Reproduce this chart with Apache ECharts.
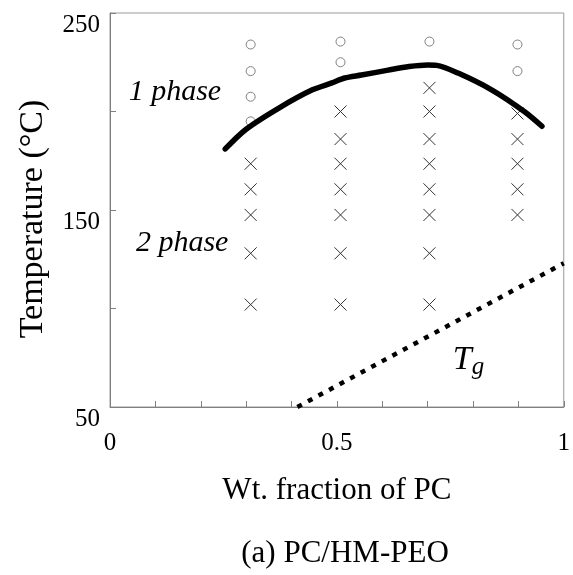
<!DOCTYPE html>
<html>
<head>
<meta charset="utf-8">
<script src="https://cdn.jsdelivr.net/npm/echarts@6/dist/echarts.min.js"></script>
<style>html,body{margin:0;padding:0;background:#fff}#c{width:573px;height:575px}</style>
</head>
<body>
<div id="c"></div>
<script>
// Data
var onePhase = [
  [0.31, 234], [0.31, 220.5], [0.31, 207.5], [0.31, 195],
  [0.508, 235.5], [0.508, 225],
  [0.704, 235.5],
  [0.898, 234], [0.898, 220.5]
];
var twoPhase = [
  [0.31, 173.5], [0.31, 160.5], [0.31, 147.5], [0.31, 128], [0.31, 102],
  [0.508, 200], [0.508, 186], [0.508, 173.5], [0.508, 160.5], [0.508, 147.5], [0.508, 128], [0.508, 102],
  [0.704, 212], [0.704, 200], [0.704, 186], [0.704, 173.5], [0.704, 160.5], [0.704, 147.5], [0.704, 128], [0.704, 102],
  [0.898, 199], [0.898, 186], [0.898, 173.5], [0.898, 160.5], [0.898, 147.5]
];
var binodal = [
  [0.254, 181], [0.30, 191], [0.374, 202], [0.446, 211], [0.489, 214.5],
  [0.517, 217], [0.554, 218.5], [0.613, 221], [0.659, 222.8], [0.70, 223.6],
  [0.72, 223.4], [0.767, 219.5], [0.841, 211], [0.913, 200], [0.952, 192.5]
];
var tgLine = [[0.413, 50], [1.0, 123]];
var regionLabels = [
  { pos: [0.143, 210], text: '1 phase' },
  { pos: [0.159, 133], text: '2 phase' },
  { pos: [0.79, 74], text: '{t|T}{g|g}' }
];
var xTickLabels = [0, 0.5, 1];
var yTickLabels = [50, 150, 250];

var FONT = '"Liberation Serif","Times New Roman",serif';
var chart = echarts.init(document.getElementById('c'), null, { renderer: 'canvas' });
function hasLabel(list, v) {
  for (var i = 0; i < list.length; i++) if (Math.abs(list[i] - v) < 1e-6) return true;
  return false;
}
chart.setOption({
  animation: false,
  backgroundColor: '#fff',
  title: {
    text: '(a) PC/HM-PEO',
    left: 340, textAlign: 'center', top: 533,
    textStyle: { fontFamily: FONT, fontSize: 31, fontWeight: 'normal', color: '#000' }
  },
  grid: { left: 110, top: 13, right: 3, bottom: 168, show: true, borderColor: '#999', borderWidth: 1 },
  xAxis: {
    type: 'value', min: 0, max: 1, interval: 0.1,
    name: 'Wt. fraction of PC', nameLocation: 'middle', nameGap: 68,
    nameTextStyle: { fontFamily: FONT, fontSize: 31, color: '#000' },
    axisLine: { show: true, lineStyle: { color: '#808080', width: 1 } },
    axisTick: { show: true, inside: true, length: 6, lineStyle: { color: '#808080' } },
    splitLine: { show: false },
    axisLabel: {
      fontFamily: FONT, fontSize: 25, color: '#000', margin: 24,
      formatter: function (v) { return hasLabel(xTickLabels, v) ? String(+v.toFixed(2)) : ''; }
    }
  },
  yAxis: {
    type: 'value', min: 50, max: 250, interval: 50,
    name: 'Temperature (°C)', nameLocation: 'middle', nameGap: 60,
    nameTextStyle: { fontFamily: FONT, fontSize: 34, color: '#000', padding: [0, 18, 0, 0] },
    axisLine: { show: true, lineStyle: { color: '#808080', width: 1 } },
    axisTick: { show: true, inside: true, length: 6, lineStyle: { color: '#808080' } },
    splitLine: { show: false },
    axisLabel: {
      fontFamily: FONT, fontSize: 25, color: '#000', margin: 10, verticalAlign: 'top',
      formatter: function (v) { return hasLabel(yTickLabels, v) ? String(v) : ''; }
    }
  },
  series: [
    {
      type: 'line', data: binodal, smooth: 0.3, showSymbol: false, symbol: 'none',
      lineStyle: { color: '#000', width: 5.5, cap: 'round', join: 'round' }, z: 3
    },
    {
      type: 'line', data: tgLine, showSymbol: false, symbol: 'none',
      lineStyle: { color: '#000', width: 4.5, type: [5, 7] }, z: 3
    },
    {
      type: 'scatter', data: onePhase, symbol: 'circle', symbolSize: 9,
      itemStyle: { color: '#fff', borderColor: '#808080', borderWidth: 1, opacity: 1 }, z: 2
    },
    {
      type: 'scatter', data: twoPhase, symbol: 'path://M0,0L10,10M10,0L0,10', symbolSize: 12,
      itemStyle: { color: 'none', borderColor: '#333', borderWidth: 1, opacity: 1 }, z: 2
    },
    {
      type: 'scatter', symbolSize: 1, silent: true,
      itemStyle: { opacity: 1, color: 'rgba(0,0,0,0)' },
      data: regionLabels.map(function (d) { return { value: d.pos, name: d.text }; }),
      label: {
        show: true, position: 'inside', formatter: function (p) { return p.name; },
        fontFamily: FONT, fontSize: 30, fontStyle: 'italic', color: '#000',
        rich: {
          t: { fontFamily: FONT, fontSize: 34, fontStyle: 'italic', color: '#000' },
          g: { fontFamily: FONT, fontSize: 25, fontStyle: 'italic', color: '#000', verticalAlign: 'bottom', padding: [16, 0, 0, 0] }
        }
      }
    }
  ]
});
</script>
</body>
</html>
